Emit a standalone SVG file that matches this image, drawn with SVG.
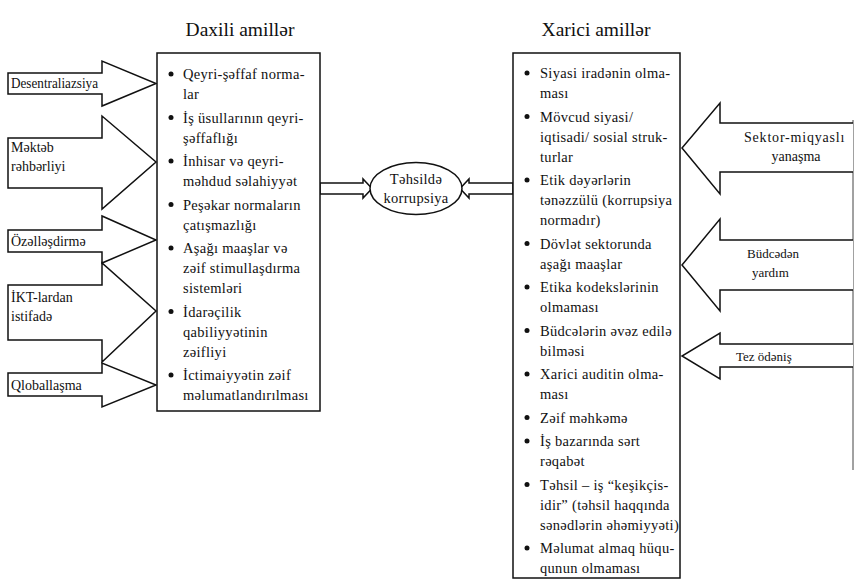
<svg xmlns="http://www.w3.org/2000/svg" width="856" height="580" viewBox="0 0 856 580">
  <style>
    text { font-family: "Liberation Serif", "Times New Roman", serif; fill: #111; }
    .title { font-size: 19.5px; }
    .t { font-size: 13px; }
    .lbl { font-size: 14px; }
    .item { font-size: 14.5px; letter-spacing: 0.3px; }
    .shape { fill: #fff; stroke: #111; stroke-width: 1.5; stroke-linejoin: miter; }
    .edge { fill: none; stroke: #444; stroke-width: 1; }
    .dot { fill: #111; }
  </style>

  <rect width="856" height="580" fill="#fff"/>

  <!-- headings -->
  <text class="title" x="240" y="36" text-anchor="middle">Daxili amillər</text>
  <text class="title" x="596" y="36" text-anchor="middle">Xarici amillər</text>

  <!-- connectors: block arrows into the central ellipse, and the frame line on the right -->
  <g id="connectors">
    <path class="shape" d="M320,183 H363 V179 L372,188.5 L363,198 V194 H320 Z"/>
    <path class="shape" d="M513,183 H469 V179 L460,188.5 L469,198 V194 H513 Z"/>
    <path class="edge" d="M853,120 V470"/>
  </g>

  <!-- left inputs -->
  <g id="desentralizasiya">
    <path class="shape" d="M8,73 H102 V61 L156,83.5 L102,106 V94 H8 Z"/>
    <text class="lbl" x="11" y="88" textLength="87" lengthAdjust="spacingAndGlyphs">Desentraliazsiya</text>
  </g>
  <g id="mekteb-rehberliyi">
    <path class="shape" d="M8,138 H102 V116 L156,162 L102,209 V188 H8 Z"/>
    <text class="lbl" x="11" y="152">Məktəb</text>
    <text class="lbl" x="11" y="171">rəhbərliyi</text>
  </g>
  <g id="ozellesdirme">
    <path class="shape" d="M8,230 H102 V216 L156,240 L102,263 V252 H8 Z"/>
    <text class="lbl" x="11" y="245.5">Özəlləşdirmə</text>
  </g>
  <g id="ikt">
    <path class="shape" d="M8,285 H102 V263 L156,311 L102,362 V340 H8 Z"/>
    <text class="lbl" x="11" y="302">İKT-lardan</text>
    <text class="lbl" x="11" y="321">istifadə</text>
  </g>
  <g id="qloballasma">
    <path class="shape" d="M8,373 H102 V363 L156,385 L102,407 V396 H8 Z"/>
    <text class="lbl" x="11" y="389.5">Qloballaşma</text>
  </g>

  <!-- internal factors -->
  <g id="daxili-amiller">
    <rect class="shape" x="157" y="53" width="163" height="358"/>
    <g class="dot">
      <circle cx="171" cy="74" r="2.5"/>
      <circle cx="171" cy="117.5" r="2.5"/>
      <circle cx="171" cy="161" r="2.5"/>
      <circle cx="171" cy="204.5" r="2.5"/>
      <circle cx="171" cy="248" r="2.5"/>
      <circle cx="171" cy="311.5" r="2.5"/>
      <circle cx="171" cy="375" r="2.5"/>
    </g>
    <text class="item" x="183" y="79">Qeyri-şəffaf norma-</text>
    <text class="item" x="183" y="99">lar</text>
    <text class="item" x="183" y="122.5">İş üsullarının qeyri-</text>
    <text class="item" x="183" y="142.5">şəffaflığı</text>
    <text class="item" x="183" y="166">İnhisar və qeyri-</text>
    <text class="item" x="183" y="186">məhdud səlahiyyət</text>
    <text class="item" x="183" y="209.5">Peşəkar normaların</text>
    <text class="item" x="183" y="229.5">çatışmazlığı</text>
    <text class="item" x="183" y="253">Aşağı maaşlar və</text>
    <text class="item" x="183" y="273">zəif stimullaşdırma</text>
    <text class="item" x="183" y="293">sistemləri</text>
    <text class="item" x="183" y="316.5">İdarəçilik</text>
    <text class="item" x="183" y="336.5">qabiliyyətinin</text>
    <text class="item" x="183" y="356.5">zəifliyi</text>
    <text class="item" x="183" y="380">İctimaiyyətin zəif</text>
    <text class="item" x="183" y="400">məlumatlandırılması</text>
  </g>

  <!-- central node -->
  <g id="tehsilde-korrupsiya">
    <ellipse class="shape" cx="416" cy="188.5" rx="46" ry="26"/>
    <text class="item" x="416" y="184" text-anchor="middle">Təhsildə</text>
    <text class="item" x="416" y="202.5" text-anchor="middle">korrupsiya</text>
  </g>

  <!-- external factors -->
  <g id="xarici-amiller">
    <rect class="shape" x="513" y="53" width="167" height="525"/>
    <g class="dot">
      <circle cx="527" cy="73" r="2.5"/>
      <circle cx="527" cy="116.5" r="2.5"/>
      <circle cx="527" cy="180" r="2.5"/>
      <circle cx="527" cy="243.5" r="2.5"/>
      <circle cx="527" cy="287" r="2.5"/>
      <circle cx="527" cy="330.5" r="2.5"/>
      <circle cx="527" cy="374" r="2.5"/>
      <circle cx="527" cy="417.5" r="2.5"/>
      <circle cx="527" cy="441" r="2.5"/>
      <circle cx="527" cy="484.5" r="2.5"/>
      <circle cx="527" cy="548" r="2.5"/>
    </g>
    <text class="item" x="540" y="78">Siyasi iradənin olma-</text>
    <text class="item" x="540" y="98">ması</text>
    <text class="item" x="540" y="121.5">Mövcud siyasi/</text>
    <text class="item" x="540" y="141.5">iqtisadi/ sosial struk-</text>
    <text class="item" x="540" y="161.5">turlar</text>
    <text class="item" x="540" y="185">Etik dəyərlərin</text>
    <text class="item" x="540" y="205">tənəzzülü (korrupsiya</text>
    <text class="item" x="540" y="225">normadır)</text>
    <text class="item" x="540" y="248.5">Dövlət sektorunda</text>
    <text class="item" x="540" y="268.5">aşağı maaşlar</text>
    <text class="item" x="540" y="292">Etika kodekslərinin</text>
    <text class="item" x="540" y="312">olmaması</text>
    <text class="item" x="540" y="335.5">Büdcələrin əvəz edilə</text>
    <text class="item" x="540" y="355.5">bilməsi</text>
    <text class="item" x="540" y="379">Xarici auditin olma-</text>
    <text class="item" x="540" y="399">ması</text>
    <text class="item" x="540" y="422.5">Zəif məhkəmə</text>
    <text class="item" x="540" y="446">İş bazarında sərt</text>
    <text class="item" x="540" y="466">rəqabət</text>
    <text class="item" x="540" y="489.5">Təhsil – iş “keşikçis-</text>
    <text class="item" x="540" y="509.5">idir” (təhsil haqqında</text>
    <text class="item" x="540" y="529.5">sənədlərin əhəmiyyəti)</text>
    <text class="item" x="540" y="553">Məlumat almaq hüqu-</text>
    <text class="item" x="540" y="573">qunun olmaması</text>
  </g>

  <!-- right inputs -->
  <g id="sektor-miqyasli">
    <path class="shape" d="M853,123 H720 V103 L682,148 L720,194 V172 H853"/>
    <text class="lbl" x="744" y="142" letter-spacing="0.8">Sektor-miqyaslı</text>
    <text class="lbl" x="796" y="161" text-anchor="middle">yanaşma</text>
  </g>
  <g id="budceden-yardim">
    <path class="shape" d="M853,240 H720 V219 L682,265 L720,311 V290 H853"/>
    <text class="t" x="747" y="258">Büdcədən</text>
    <text class="t" x="752" y="277">yardım</text>
  </g>
  <g id="tez-odenis">
    <path class="shape" d="M853,344 H720 V333 L682,356 L720,379 V367 H853"/>
    <text class="t" x="736" y="361">Tez ödəniş</text>
  </g>
</svg>
